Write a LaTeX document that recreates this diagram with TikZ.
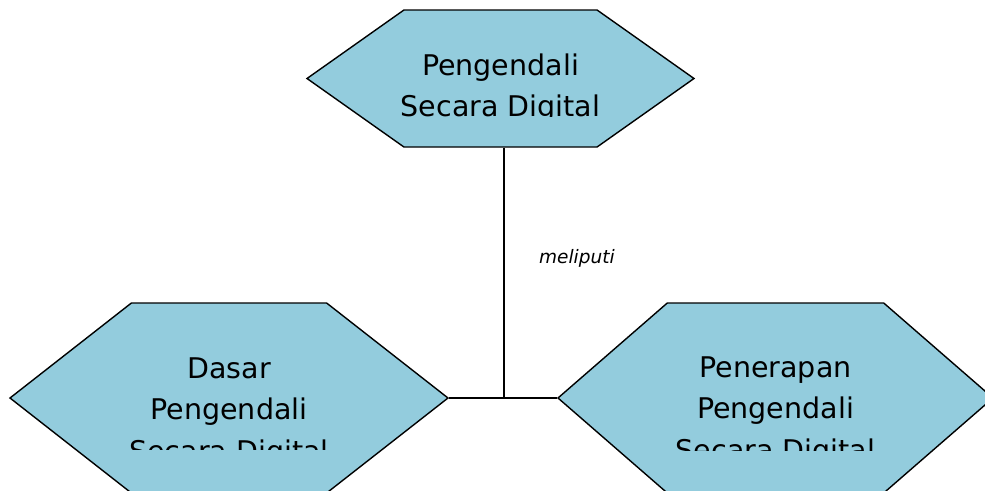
\documentclass[tikz,border=0pt]{standalone}
\usepackage{fontspec}
\setmainfont{DejaVu Sans}
\usetikzlibrary{shapes.symbols,positioning}
\definecolor{hexblue}{RGB}{147,204,221}

\begin{document}
\begin{tikzpicture}[
  x=1pt,y=-1pt,
  hexa/.style={shape=signal,signal to=east and west,draw=black,fill=hexblue,
               line width=1.4pt,inner sep=0pt,line join=miter},
  txt/.style={font=\fontsize{28.5}{41.5}\selectfont,align=center,inner sep=0pt,anchor=north},
  conn/.style={line width=1.8pt,black},
  lab/.style={font=\fontsize{18.5}{21}\selectfont\itshape,inner sep=0pt}
]
\useasboundingbox (0,0) rectangle (985,490);

% ---- Segi enam ----
\node[hexa,minimum width=387pt,minimum height=137pt,signal pointer angle=70.5]
  (utama) at (500.5,78.5) {};
\node[hexa,minimum width=438pt,minimum height=190pt,signal pointer angle=76.1]
  (dasar) at (229,398) {};
\node[hexa,minimum width=435pt,minimum height=190pt,signal pointer angle=82]
  (terap) at (775.5,398) {};

% ---- Teks (terpotong di bawah) ----
\begin{scope}
  \clip (300,0) rectangle (700,116);
  \node[txt] (utamatxt) at (500.5,53.3) {Pengendali\\Secara Digital};
\end{scope}
\begin{scope}
  \clip (0,300) rectangle (460,449);
  \node[txt] (dasartxt) at (229,357.3) {Dasar\\Pengendali\\Secara Digital};
\end{scope}
\begin{scope}
  \clip (550,300) rectangle (985,450);
  \node[txt] (teraptxt) at (775.5,356.3) {Penerapan\\Pengendali\\Secara Digital};
\end{scope}

% ---- Penghubung ----
\coordinate (cabang) at ([xshift=3.5pt]utama.south |- dasar.east);
\draw[conn] ([xshift=3.5pt]utama.south) -- (cabang);
\draw[conn] (dasar.east) -- (terap.west);
\node[lab,anchor=base west] (meliputi) at (539,263) {meliputi};

\end{tikzpicture}
\end{document}
